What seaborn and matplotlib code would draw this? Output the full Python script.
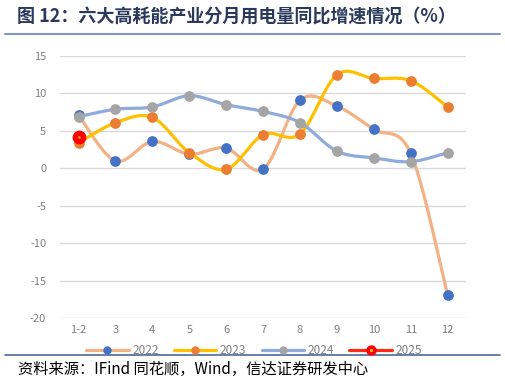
import numpy as np
import pandas as pd
import matplotlib
matplotlib.use("Agg")
import matplotlib.pyplot as plt
from matplotlib.lines import Line2D
import seaborn as sns

months = ["1-2", "3", "4", "5", "6", "7", "8", "9", "10", "11", "12"]
y2022 = [7.1, 1.0, 3.6, 1.9, 2.7, -0.1, 9.1, 8.3, 5.2, 2.0, -16.9]
y2023 = [3.4, 6.1, 6.8, 2.1, -0.1, 4.5, 4.6, 12.5, 12.0, 11.7, 8.2]
y2024 = [6.9, 7.9, 8.2, 9.7, 8.5, 7.6, 6.1, 2.3, 1.4, 0.9, 2.1]
y2025 = [4.2]
yticks = [15, 10, 5, 0, -5, -10, -15, -20]

sns.set_theme(style="white")
plt.rcParams["font.family"] = ["Noto Sans CJK SC", "DejaVu Sans"]


def smooth(xs, ys, n=30):
    # Catmull-Rom style Bezier through data points (Excel "smoothed line")
    xs = np.asarray(xs, float)
    ys = np.asarray(ys, float)
    P = np.column_stack([xs, ys])
    if len(P) < 2:
        return xs, ys
    ext = np.vstack([P[0], P, P[-1]])
    out = []
    for i in range(len(P) - 1):
        p0, p1, p2, p3 = ext[i], ext[i + 1], ext[i + 2], ext[i + 3]
        c1 = p1 + (p2 - p0) / 6.0
        c2 = p2 - (p3 - p1) / 6.0
        t = np.linspace(0, 1, n, endpoint=(i == len(P) - 2))[:, None]
        seg = ((1 - t) ** 3) * p1 + 3 * ((1 - t) ** 2) * t * c1 + 3 * (1 - t) * t ** 2 * c2 + t ** 3 * p2
        out.append(seg)
    out = np.vstack(out)
    return out[:, 0], out[:, 1]


fig = plt.figure(figsize=(5.05, 3.81), dpi=100)
ax = fig.add_axes([0.119, 0.1646, 0.804, 0.6884])

series = [
    ("2022", y2022, "#F4B183", "#4472C4"),
    ("2023", y2023, "#FFC000", "#ED7D31"),
    ("2024", y2024, "#8FAADC", "#A5A5A5"),
]
z = 3
for name, vals, lc, mc in series:
    xi = np.arange(len(vals))
    sx, sy = smooth(xi, vals)
    sns.lineplot(x=sx, y=sy, ax=ax, color=lc, lw=2.3, sort=False, estimator=None, zorder=z)
    sns.scatterplot(x=xi, y=vals, ax=ax, color=mc, s=60, edgecolor=mc, linewidth=0, zorder=z + 0.5)
    z += 1

xi = np.arange(len(y2025))
sns.scatterplot(x=xi, y=y2025, ax=ax, color="#FF0000", s=98, linewidth=0, zorder=z + 1)
sns.scatterplot(x=xi, y=y2025, ax=ax, color="#FFC000", s=3, linewidth=0, zorder=z + 2)

ax.set_xlim(-0.5, len(months) - 0.5)
ax.set_ylim(-20, 15)
ax.set_xticks(np.arange(len(months)))
ax.set_xticklabels(months)
ax.set_yticks(yticks)
ax.set_yticklabels([str(v) for v in yticks])
ax.tick_params(axis="both", colors="#7F7F7F", labelsize=8, length=0)
ax.tick_params(axis="x", pad=5)
ax.tick_params(axis="y", pad=10)
ax.grid(axis="y", color="#D9D9D9", lw=1.0)
ax.set_axisbelow(True)
for s in ax.spines.values():
    s.set_visible(False)
ax.set_xlabel("")
ax.set_ylabel("")

handles = [
    Line2D([], [], color="#F4B183", lw=2.3, marker="o", ms=5, mfc="#4472C4", mec="#4472C4"),
    Line2D([], [], color="#FFC000", lw=2.3, marker="o", ms=5, mfc="#ED7D31", mec="#ED7D31"),
    Line2D([], [], color="#8FAADC", lw=2.3, marker="o", ms=5, mfc="#A5A5A5", mec="#A5A5A5"),
    (Line2D([], [], color="#FF2A1A", lw=2.3, marker="o", ms=6.5, mfc="#FF0000", mec="#FF0000"),
     Line2D([], [], lw=0, marker="o", ms=1.3, mfc="#FFC000", mec="#FFC000")),
]
fig.legend(handles, ["2022", "2023", "2024", "2025"], loc="center", bbox_to_anchor=(0.503, 0.081),
           ncol=4, frameon=False, fontsize=8.5, labelcolor="#7F7F7F", handlelength=3.6,
           handletextpad=0.3, columnspacing=1.3, numpoints=1)

fig.text(0.034, 0.957, "图 12：六大高耗能产业分月用电量同比增速情况（%）", fontsize=13,
         fontweight="bold", color="#2B3A5C", va="center", ha="left")
fig.add_artist(Line2D([0.01, 0.99], [0.912, 0.912], color="#7F97BF", lw=1.5, transform=fig.transFigure))
fig.add_artist(Line2D([0.01, 0.99], [0.067, 0.067], color="#4A6A9C", lw=1.2, transform=fig.transFigure))
fig.text(0.036, 0.031, "资料来源：IFind 同花顺，Wind，信达证券研发中心", fontsize=11,
         color="#000000", va="center", ha="left", style="italic")

fig.savefig("out.png", dpi=100)
